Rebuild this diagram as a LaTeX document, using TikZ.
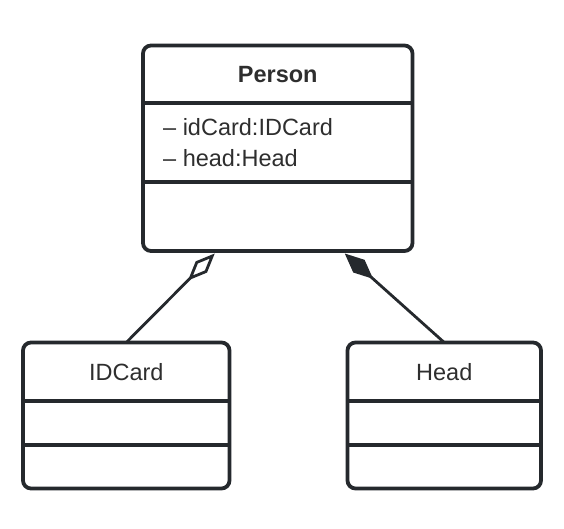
\documentclass[tikz,border=0pt]{standalone}
\usepackage{fontspec}
\setmainfont{Liberation Sans}
\usetikzlibrary{arrows.meta,positioning}
\definecolor{umlline}{HTML}{25292D}
\definecolor{umltext}{HTML}{2E2E2E}

\tikzset{
  classbox/.style = {rectangle, rounded corners = 8pt, draw = umlline, line width = 3.8pt, inner sep = 0pt, outer sep = 0pt},
  classtext/.style = {text = umltext, inner sep = 0pt, font = \fontsize{23.5}{31}\selectfont},
  divider/.style = {draw = umlline, line width = 3.8pt},
  link/.style = {draw = umlline, line width = 2.8pt}
}

\begin{document}
\begin{tikzpicture}[x = 1pt, y = 1pt]
\useasboundingbox (0,0) rectangle (564,528);

% class boxes
\node (person) [classbox, minimum width = 269.5pt, minimum height = 205.5pt] at (277.75, 379.75) {};
\node (idcard) [classbox, minimum width = 206.5pt, minimum height = 146pt] at (126.25, 112.5) {};
\node (head) [classbox, minimum width = 193.5pt, minimum height = 146pt] at (444.25, 112.5) {};

% compartments
\draw [divider] ([yshift = -57.5pt]person.north west) -- ([yshift = -57.5pt]person.north east);
\draw [divider] ([yshift = -136.2pt]person.north west) -- ([yshift = -136.2pt]person.north east);
\draw [divider] ([yshift = -58.2pt]idcard.north west) -- ([yshift = -58.2pt]idcard.north east);
\draw [divider, line width = 3.2pt] ([yshift = -102.5pt]idcard.north west) -- ([yshift = -102.5pt]idcard.north east);
\draw [divider] ([yshift = -58.2pt]head.north west) -- ([yshift = -58.2pt]head.north east);
\draw [divider, line width = 3.2pt] ([yshift = -102.5pt]head.north west) -- ([yshift = -102.5pt]head.north east);

% names and attributes
\node (personname) [classtext, font = \fontsize{23.5}{31}\selectfont\bfseries] at ([yshift = -29.5pt]person.north) {Person};
\node (personattr) [classtext, anchor = west, align = left] at ([xshift = 20pt, yshift = 5.75pt]person.west) {– idCard:IDCard\\– head:Head};
\node (idcardname) [classtext] at ([yshift = -29.2pt]idcard.north) {IDCard};
\node (headname) [classtext] at ([yshift = -29.2pt]head.north) {Head};

% aggregation and composition
\coordinate (personagg) at ([xshift = -63pt, yshift = -2.5pt]person.south);
\coordinate (personcomp) at ([xshift = 67pt, yshift = -2.5pt]person.south);
\draw [link, -{Diamond[open, length = 38pt, width = 16pt]}] (idcard.north) -- (personagg);
\draw [link, -{Diamond[fill = umlline, length = 38pt, width = 17pt]}] (head.north) -- (personcomp);

\end{tikzpicture}
\end{document}
